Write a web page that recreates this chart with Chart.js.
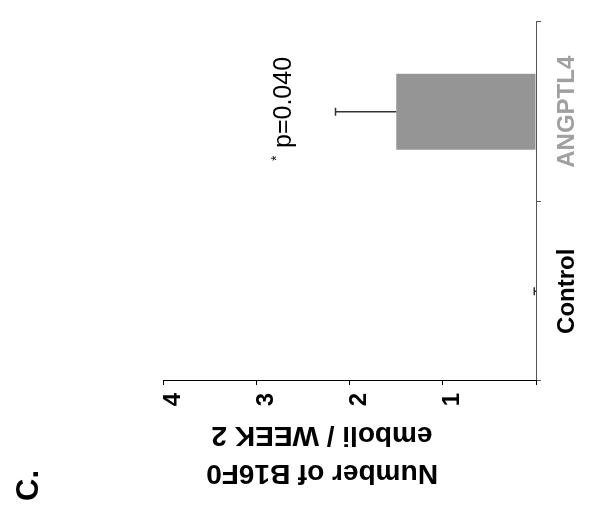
<!DOCTYPE html>
<html lang="en">
<head>
  <meta charset="UTF-8" />
  <title>Number of B16F0 emboli / WEEK 2</title>
  <script src="https://cdn.jsdelivr.net/npm/chart.js"></script>
  <style>
    html, body {
      margin: 0;
      padding: 0;
      width: 589px;
      height: 517px;
      overflow: hidden;
      background: #fff;
    }
    /* the figure is a normal column chart turned a quarter turn anticlockwise */
    #wrap {
      position: absolute;
      left: 0;
      top: 0;
      width: 517px;
      height: 589px;
      transform-origin: 0 0;
      transform: translate(0, 517px) rotate(-90deg);
    }
  </style>
</head>
<body>
  <div id="wrap">
    <canvas id="embChart" width="517" height="589"></canvas>
  </div>
  <script>
    const categories = ['Control', 'ANGPTL4'];
    const meanValues = [0, 1.5];
    const errorValues = [0.02, 0.65];
    const yMin = 0;
    const yMax = 4;
    const yStep = 1;
    const axisTitle = ['Number of B16F0', 'emboli / WEEK 2'];
    const pLabel = 'p=0.040';
    const panelLabel = 'C.';

    Chart.defaults.font.family = "'Liberation Sans', Arial, sans-serif";

    const errorBars = {
      id: 'errorBars',
      afterDatasetsDraw(chart) {
        const ctx = chart.ctx;
        const yScale = chart.scales.y;
        const meta = chart.getDatasetMeta(0);
        ctx.save();
        ctx.strokeStyle = '#333';
        ctx.lineWidth = 1.5;
        meta.data.forEach((bar, i) => {
          const top = yScale.getPixelForValue(meanValues[i] + errorValues[i]);
          ctx.beginPath();
          ctx.moveTo(bar.x, bar.y);
          ctx.lineTo(bar.x, top);
          ctx.moveTo(bar.x - 4, top);
          ctx.lineTo(bar.x + 4, top);
          ctx.stroke();
        });
        ctx.restore();
      }
    };

    const extraText = {
      id: 'extraText',
      afterDraw(chart) {
        const ctx = chart.ctx;
        ctx.save();
        ctx.fillStyle = '#000';

        // axis title, two lines reading bottom to top
        ctx.font = "bold 28px 'Liberation Sans', Arial, sans-serif";
        ctx.textAlign = 'center';
        ctx.textBaseline = 'alphabetic';
        [52, 90].forEach((x, i) => {
          ctx.save();
          ctx.translate(x, 322);
          ctx.rotate(-Math.PI / 2);
          ctx.fillText(axisTitle[i], 0, 0);
          ctx.restore();
        });

        // panel letter
        ctx.textAlign = 'left';
        ctx.font = "bold 31px 'Liberation Sans', Arial, sans-serif";
        ctx.fillText(panelLabel, 16, 38);

        // significance note
        ctx.font = "25px 'Liberation Sans', Arial, sans-serif";
        ctx.fillText(pLabel, 369, 291);
        ctx.font = "14px 'Liberation Sans', Arial, sans-serif";
        ctx.textBaseline = 'top';
        ctx.fillText('*', 356, 270);
        ctx.restore();
      }
    };

    new Chart(document.getElementById('embChart'), {
      type: 'bar',
      data: {
        labels: categories,
        datasets: [{
          data: meanValues,
          backgroundColor: '#959595',
          borderWidth: 0,
          barPercentage: 0.423,
          categoryPercentage: 1
        }]
      },
      options: {
        responsive: false,
        animation: false,
        layout: { padding: { top: 163, right: 22, left: 0, bottom: 0 } },
        plugins: {
          legend: { display: false },
          tooltip: { enabled: false }
        },
        scales: {
          x: {
            afterFit(scale) { scale.height = 53; },
            grid: { drawOnChartArea: false, drawTicks: true, tickLength: 5, color: '#555' },
            border: { display: true, color: '#555', width: 1 },
            ticks: {
              padding: 12,
              font: { size: 24, weight: 'bold' },
              color: (c) => c.index === 1 ? '#a0a0a0' : '#000'
            }
          },
          y: {
            min: yMin,
            max: yMax,
            afterFit(scale) { scale.width = 136; },
            grid: { drawOnChartArea: false, drawTicks: true, tickLength: 4, color: '#000' },
            border: { display: true, color: '#000', width: 1 },
            ticks: {
              stepSize: yStep,
              padding: 8,
              labelOffset: 10,
              color: '#000',
              font: { size: 24, weight: 'bold' },
              callback: (v) => v === 0 ? '' : v
            }
          }
        }
      },
      plugins: [errorBars, extraText]
    });
  </script>
</body>
</html>
